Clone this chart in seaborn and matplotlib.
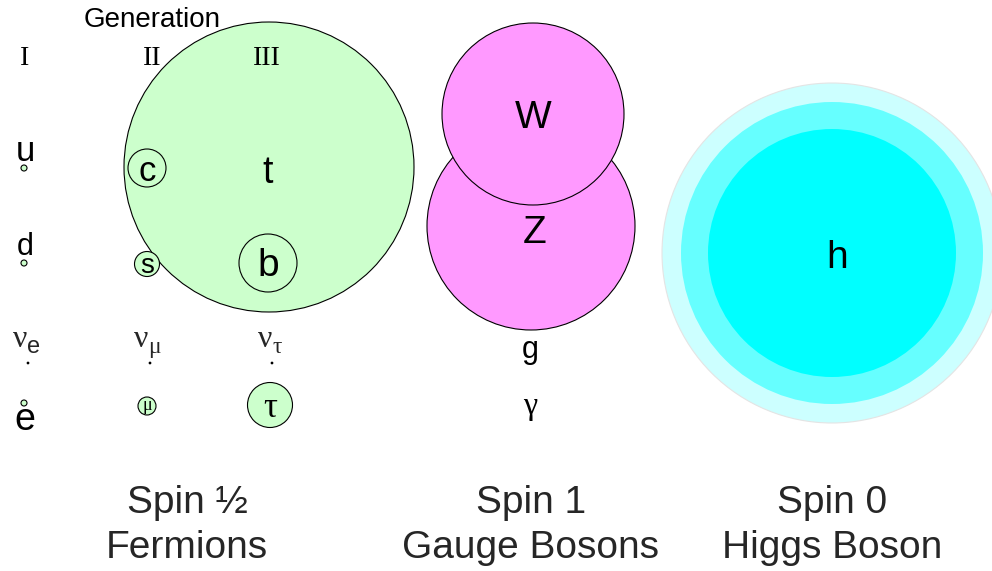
import numpy as np
import matplotlib
matplotlib.use("Agg")
from matplotlib import pyplot as plt
from matplotlib.patches import Circle
import seaborn as sns

# particle circles (pixel units, y grows downward)
names   = ["t", "c", "b", "s", "u", "d", "e", "μ", "τ", "Z", "W"]
x_pos   = [269, 147, 268, 147, 24, 24, 24, 147, 270, 531, 533]
y_pos   = [167, 168, 263, 264, 168, 263, 403, 406, 405, 226, 114]
radius  = [145, 19, 29, 12.5, 3, 3, 3, 9, 22.5, 104, 91]
group   = ["fermion"] * 9 + ["boson"] * 2

# massless ones are just dots
nu_x = [28, 150, 272]
nu_y = [363, 363, 363]

# higgs uncertainty bands
higgs_x = 832
higgs_y = 253
higgs_r = [170, 151, 124]

sns.set_theme(style="white")
sans = ["Liberation Sans", "DejaVu Sans"]
serif = ["Liberation Serif", "DejaVu Serif"]

fig = plt.figure(figsize=(9.92, 5.71), dpi=100)
ax = fig.add_axes([0, 0, 1, 1])
ax.set_xlim(0, 992)
ax.set_ylim(571, 0)
ax.axis("off")

fills = {"fermion": "#ccffcc", "boson": "#ff99ff"}
for n, cx, cy, r, g in zip(names, x_pos, y_pos, radius, group):
    ax.add_patch(Circle((cx, cy), r, facecolor=fills[g], edgecolor="black", lw=0.8))

for r, col, ec in zip(higgs_r, ["#ccffff", "#66ffff", "#00ffff"], ["#e4e4e4", "none", "none"]):
    ax.add_patch(Circle((higgs_x, higgs_y), r, facecolor=col, edgecolor=ec, lw=0.8))

sns.scatterplot(x=nu_x, y=nu_y, color="black", s=4, edgecolor="none", ax=ax, legend=False)

# labels: text, x, baseline y, size, family
labels = [
    ("u", 25, 161, 25, sans), ("c", 147, 181, 25, sans), ("t", 268, 183, 27, sans),
    ("d", 25, 255, 22, sans), ("s", 147, 273, 20, sans), ("b", 268, 276, 28, sans),
    ("e", 25, 430, 27, sans), ("μ", 147, 410, 13, serif), ("τ", 270, 417, 25, serif),
    ("W", 533, 128, 28, sans), ("Z", 535, 243, 28, sans),
    ("g", 530, 358, 22, sans), ("γ", 530, 414, 23, serif),
    ("h", 837, 268, 28, sans),
    ("I", 25, 65, 20, serif), ("II", 152, 65, 20, serif), ("III", 267, 65, 20, serif),
    ("Generation", 152, 27, 20, sans),
]
for t, lx, ly, fs, fam in labels:
    ax.text(lx, ly, t, ha="center", va="baseline", fontsize=fs, family=fam, color="black")

# neutrino labels, nu plus subscript
for nx, sub, fam in zip([27, 148, 272], ["e", "μ", "τ"], [sans, serif, serif]):
    ax.text(nx, 347, "ν", ha="right", va="baseline", fontsize=23, family=serif)
    ax.text(nx + 0.5, 353, sub, ha="left", va="baseline", fontsize=17, family=fam)

# spin captions
captions = [("Spin ½", "Fermions", 187), ("Spin 1", "Gauge Bosons", 531), ("Spin 0", "Higgs Boson", 832)]
for top, bottom, cx in captions:
    ax.text(cx, 513, top, ha="center", va="baseline", fontsize=28, family=sans)
    ax.text(cx, 558, bottom, ha="center", va="baseline", fontsize=28, family=sans)

fig.savefig("out.png", dpi=100)
